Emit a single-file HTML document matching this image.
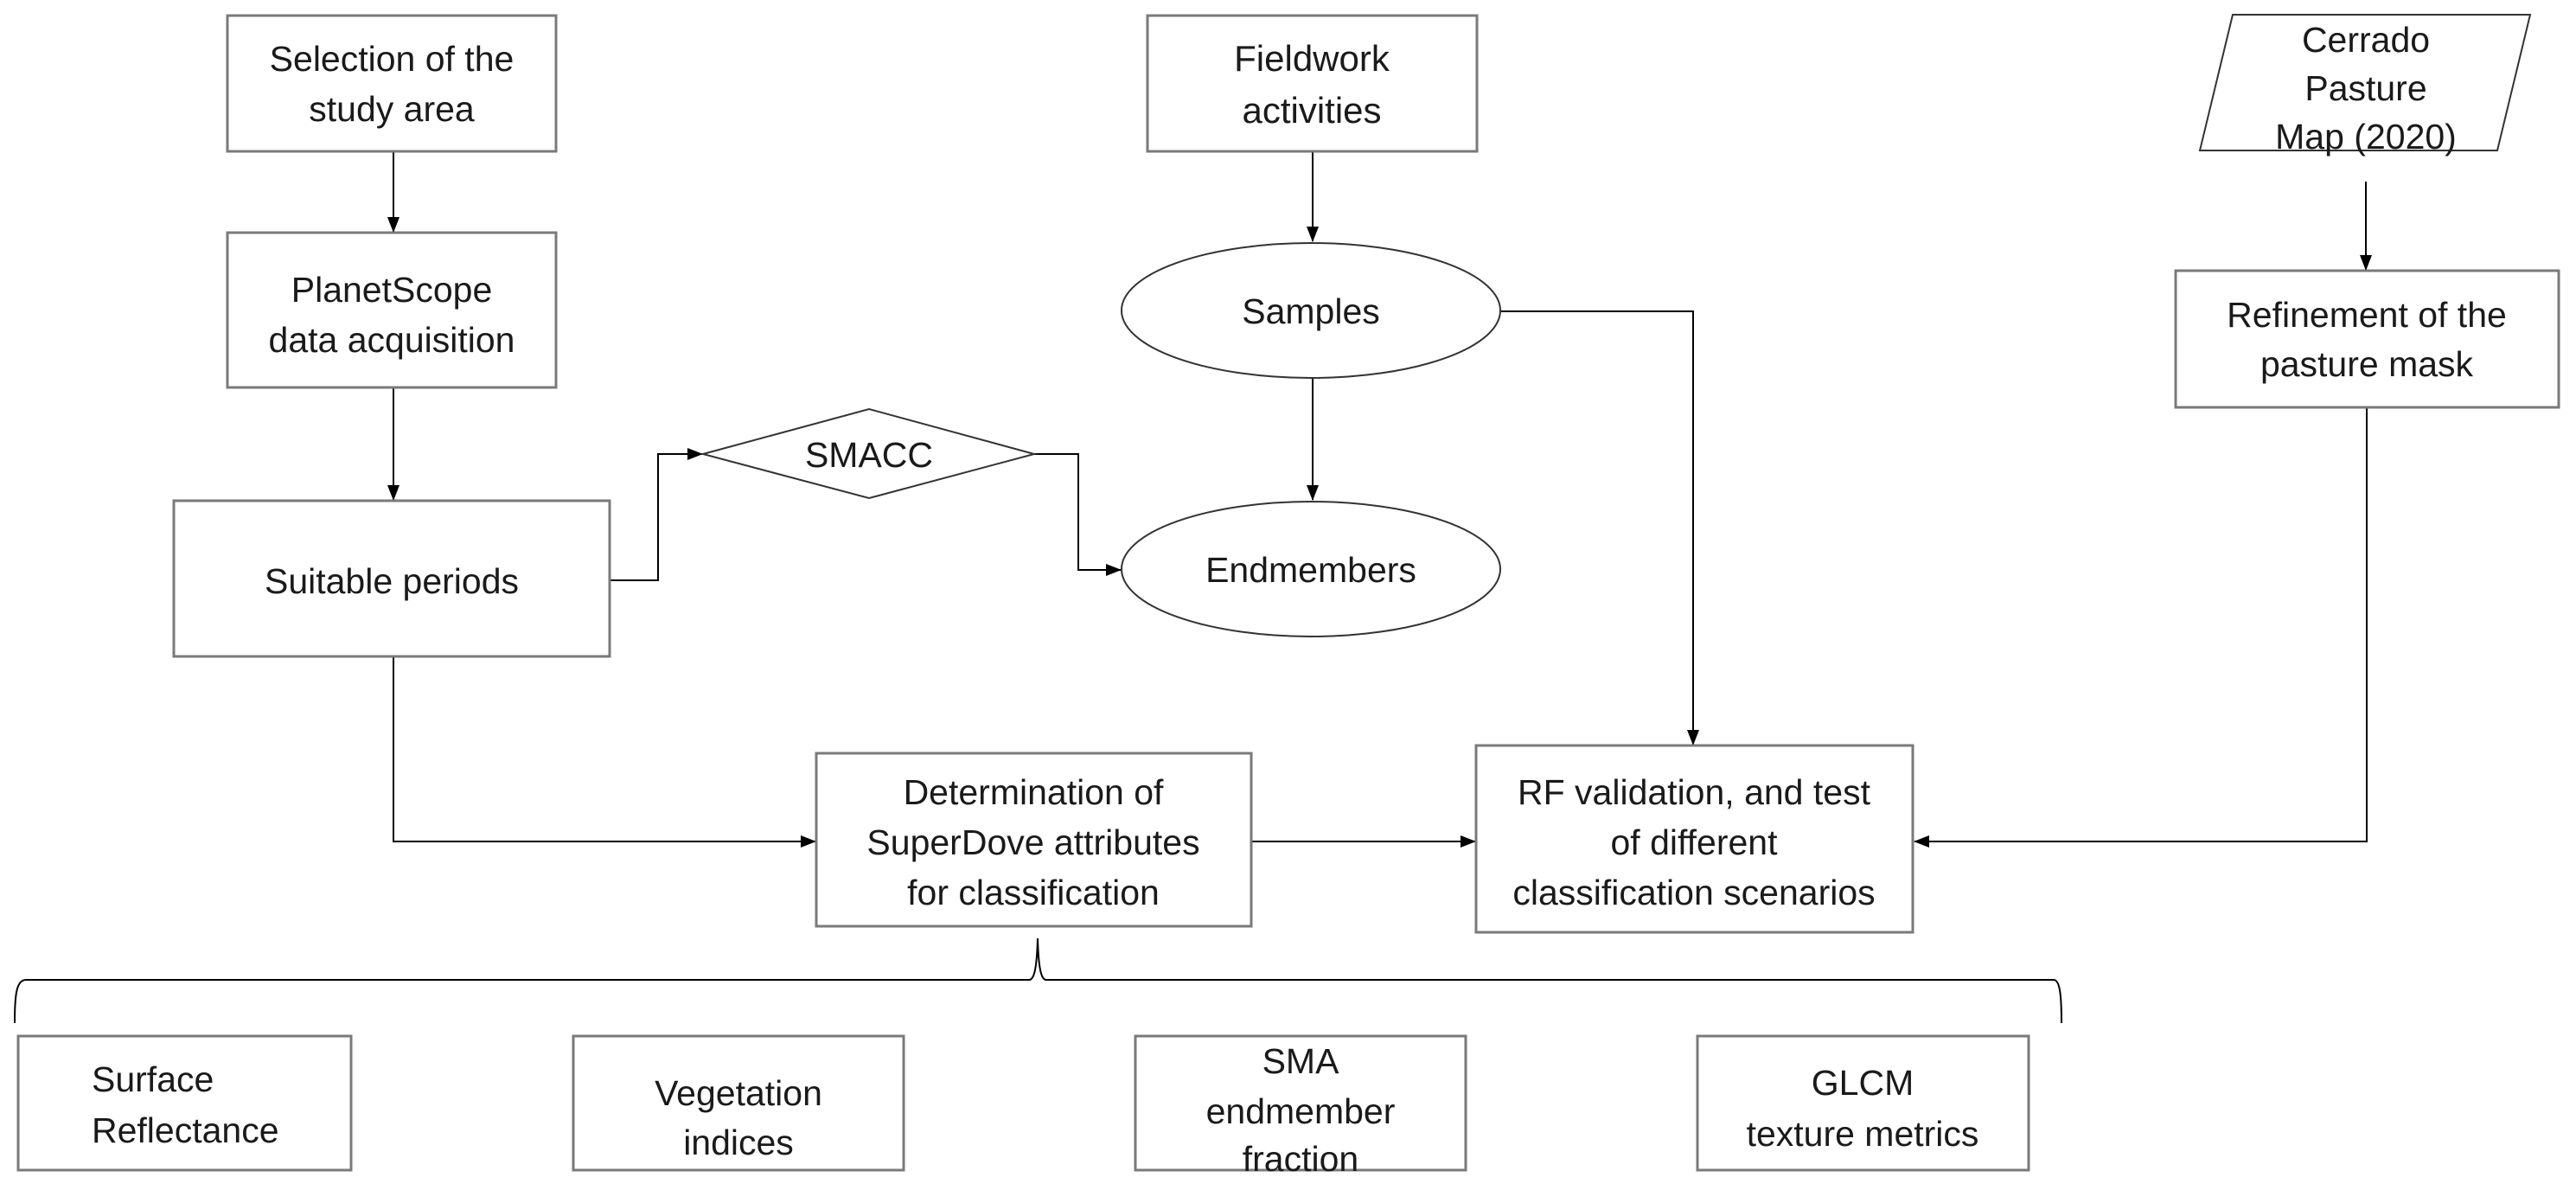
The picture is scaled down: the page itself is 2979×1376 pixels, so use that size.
<!DOCTYPE html>
<html><head><meta charset="utf-8"><style>
html,body{margin:0;padding:0;background:#fff;}
svg{display:block;}
text{font-family:"Liberation Sans",sans-serif;font-size:41px;fill:#1a1a1a;text-anchor:middle;}
.b{fill:#fff;stroke:#7a7a7a;stroke-width:3;}
.s{fill:#fff;stroke:#333;stroke-width:2;}
.l{fill:none;stroke:#000;stroke-width:2;}
</style></head><body>
<svg width="2979" height="1376" viewBox="0 0 2979 1376" xmlns="http://www.w3.org/2000/svg">
<defs>
<marker id="m" markerWidth="18" markerHeight="18" refX="17" refY="9" orient="auto" markerUnits="userSpaceOnUse" viewBox="0 0 18 18"><path d="M0,2 L18,9 L0,16 z" fill="#000"/></marker></defs>

<path class="l" d="M455,176 V268" marker-end="url(#m)"/>
<path class="l" d="M455,449 V578" marker-end="url(#m)"/>
<path class="l" d="M706,671 H761 V525 H812" marker-end="url(#m)"/>
<path class="l" d="M1196,525 H1247 V659 H1296" marker-end="url(#m)"/>
<path class="l" d="M1518,176 V279" marker-end="url(#m)"/>
<path class="l" d="M1518,437 V578" marker-end="url(#m)"/>
<path class="l" d="M1736,360 H1958 V861" marker-end="url(#m)"/>
<path class="l" d="M455,760 V973 H943" marker-end="url(#m)"/>
<path class="l" d="M1448,973 H1706" marker-end="url(#m)"/>
<path class="l" d="M2736,210 V312" marker-end="url(#m)"/>
<path class="l" d="M2737,472 V973 H2214" marker-end="url(#m)"/>
<path class="l" d="M17,1183 C17,1150 19,1133 30,1133 H1190 C1196,1133 1199,1120 1200,1085 C1201,1120 1204,1133 1210,1133 H2375 C2382,1133 2384,1150 2384,1183"/>

<rect class="b" x="263" y="18" width="380" height="157"/>
<text x="453" y="82">Selection of the</text><text x="453" y="140">study area</text>

<rect class="b" x="263" y="269" width="380" height="179"/>
<text x="453" y="349">PlanetScope</text><text x="453" y="407">data acquisition</text>

<rect class="b" x="201" y="579" width="504" height="180"/>
<text x="453" y="686">Suitable periods</text>

<polygon class="s" points="813,525 1005,473 1196,525 1005,576"/>
<text x="1005" y="540">SMACC</text>

<rect class="b" x="1327" y="18" width="381" height="157"/>
<text x="1517" y="82" style="font-size:42px">Fieldwork</text><text x="1517" y="142" style="font-size:42px">activities</text>

<ellipse class="s" cx="1516" cy="359" rx="219" ry="78"/>
<text x="1516" y="374">Samples</text>
<ellipse class="s" cx="1516" cy="658" rx="219" ry="78"/>
<text x="1516" y="673">Endmembers</text>

<rect class="b" x="944" y="871" width="503" height="200"/>
<text x="1195" y="930">Determination of</text><text x="1195" y="988">SuperDove attributes</text><text x="1195" y="1046">for classification</text>

<rect class="b" x="1707" y="862" width="505" height="216"/>
<text x="1959" y="930">RF validation, and test</text><text x="1959" y="988">of different</text><text x="1959" y="1046">classification scenarios</text>

<polygon class="s" points="2582,17 2926,17 2888,174 2544,174"/>
<text x="2736" y="60">Cerrado</text><text x="2736" y="116">Pasture</text><text x="2736" y="172">Map (2020)</text>

<rect class="b" x="2516" y="313" width="443" height="158"/>
<text x="2737" y="378">Refinement of the</text><text x="2737" y="435">pasture mask</text>

<rect class="b" x="21" y="1198" width="385" height="155"/>
<text x="106" y="1262" style="text-anchor:start">Surface</text><text x="106" y="1321" style="text-anchor:start">Reflectance</text>

<rect class="b" x="663" y="1198" width="382" height="155"/>
<text x="854" y="1278">Vegetation</text><text x="854" y="1335">indices</text>

<rect class="b" x="1313" y="1198" width="382" height="155"/>
<text x="1504" y="1241">SMA</text><text x="1504" y="1299">endmember</text><text x="1504" y="1354">fraction</text>

<rect class="b" x="1963" y="1198" width="383" height="155"/>
<text x="2154" y="1266">GLCM</text><text x="2154" y="1325">texture metrics</text>
</svg>
</body></html>
